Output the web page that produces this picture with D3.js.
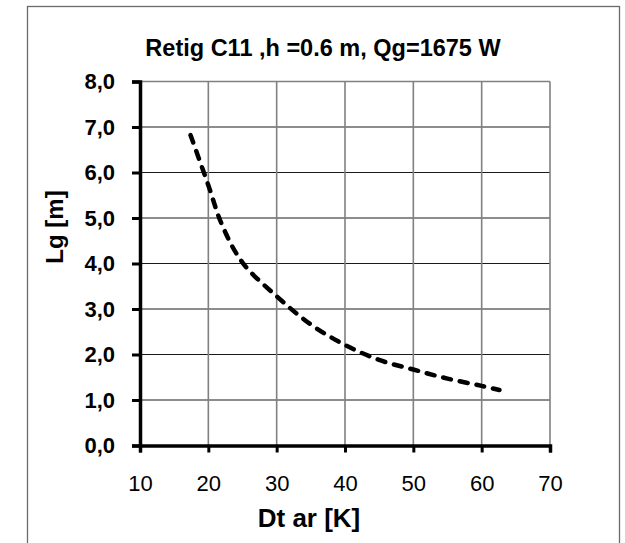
<!DOCTYPE html>
<html>
<head>
<meta charset="utf-8">
<script src="https://cdn.jsdelivr.net/npm/d3@7"></script>
<style>
    body { margin: 0; background: #fff; }
    svg { display: block; font-family: Arial, "Liberation Sans", sans-serif; }
</style>
</head>
<body>
<svg id="chart" width="625" height="543"></svg>
<script>
// Chart data
const dtValues = [17.4, 20, 22, 25, 30, 35, 40, 45, 50, 55, 60, 62.6];
const lgValues = [6.82, 5.72, 4.85, 4.02, 3.28, 2.66, 2.21, 1.88, 1.67, 1.47, 1.31, 1.22];
const xTicks = [10, 20, 30, 40, 50, 60, 70];
const yTicks = [0, 1, 2, 3, 4, 5, 6, 7, 8];
const titleText = 'Retig C11 ,h =0.6 m, Qg=1675 W';
const xTitle = 'Dt ar [K]';
const yTitle = 'Lg [m]';

const svg = d3.select('#chart');

// Plot area
const plot = { left: 140, right: 550, top: 81.5, bottom: 445.5 };

const x = d3.scaleLinear().domain([10, 70]).range([plot.left, plot.right]);
const y = d3.scaleLinear().domain([0, 8]).range([plot.bottom, plot.top]);

// Outer chart border
svg.append('rect')
    .attr('x', 27.5)
    .attr('y', 6.5)
    .attr('width', 592)
    .attr('height', 560)
    .attr('fill', 'none')
    .attr('stroke', '#6b6b6b')
    .attr('stroke-width', 1.3);

// Gridlines
svg.append('g')
    .selectAll('line')
    .data(yTicks.filter(d => d > 0))
    .enter()
    .append('line')
    .attr('x1', plot.left)
    .attr('x2', plot.right)
    .attr('y1', d => y(d))
    .attr('y2', d => y(d))
    .attr('stroke', d => d === 8 ? '#808080' : '#1a1a1a')
    .attr('stroke-width', d => d === 8 ? 1.5 : 1);

svg.append('g')
    .selectAll('line')
    .data(xTicks.filter(d => d > 10))
    .enter()
    .append('line')
    .attr('x1', d => x(d))
    .attr('x2', d => x(d))
    .attr('y1', plot.top)
    .attr('y2', plot.bottom)
    .attr('stroke', '#808080')
    .attr('stroke-width', 1.6);

// Y axis
const yAxis = svg.append('g')
    .attr('transform', `translate(${plot.left},0)`)
    .call(d3.axisLeft(y).tickValues(yTicks).tickSize(8).tickPadding(17)
        .tickFormat(d => d3.format('.1f')(d).replace('.', ',')));
yAxis.select('.domain').attr('stroke', '#000').attr('stroke-width', 3.5);
yAxis.selectAll('.tick line').attr('stroke', '#000').attr('stroke-width', 3);
yAxis.selectAll('.tick text')
    .attr('font-size', '22px')
    .attr('font-weight', 'bold')
    .attr('fill', '#000');

// X axis
const xAxis = svg.append('g')
    .attr('transform', `translate(0,${plot.bottom})`)
    .call(d3.axisBottom(x).tickValues(xTicks).tickSize(7).tickPadding(23));
xAxis.select('.domain').attr('stroke', '#000').attr('stroke-width', 3.5);
xAxis.selectAll('.tick line').attr('stroke', '#000').attr('stroke-width', 3);
xAxis.selectAll('.tick text')
    .attr('font-size', '22px')
    .attr('fill', '#000');

// Dashed curve
const line = d3.line()
    .x((d, i) => x(dtValues[i]))
    .y(d => y(d))
    .curve(d3.curveCatmullRom.alpha(0.5));

svg.append('path')
    .datum(lgValues)
    .attr('d', line)
    .attr('fill', 'none')
    .attr('stroke', '#000')
    .attr('stroke-width', 4.5)
    .attr('stroke-linecap', 'round')
    .attr('stroke-dasharray', '8,9');

// Titles
svg.append('text')
    .attr('x', 323)
    .attr('y', 56)
    .attr('text-anchor', 'middle')
    .attr('font-size', '23.5px')
    .attr('font-weight', 'bold')
    .text(titleText);

svg.append('text')
    .attr('x', 309)
    .attr('y', 527)
    .attr('text-anchor', 'middle')
    .attr('font-size', '26px')
    .attr('font-weight', 'bold')
    .text(xTitle);

svg.append('text')
    .attr('transform', 'translate(63,227) rotate(-90)')
    .attr('text-anchor', 'middle')
    .attr('font-size', '24px')
    .attr('font-weight', 'bold')
    .text(yTitle);
</script>
</body>
</html>
